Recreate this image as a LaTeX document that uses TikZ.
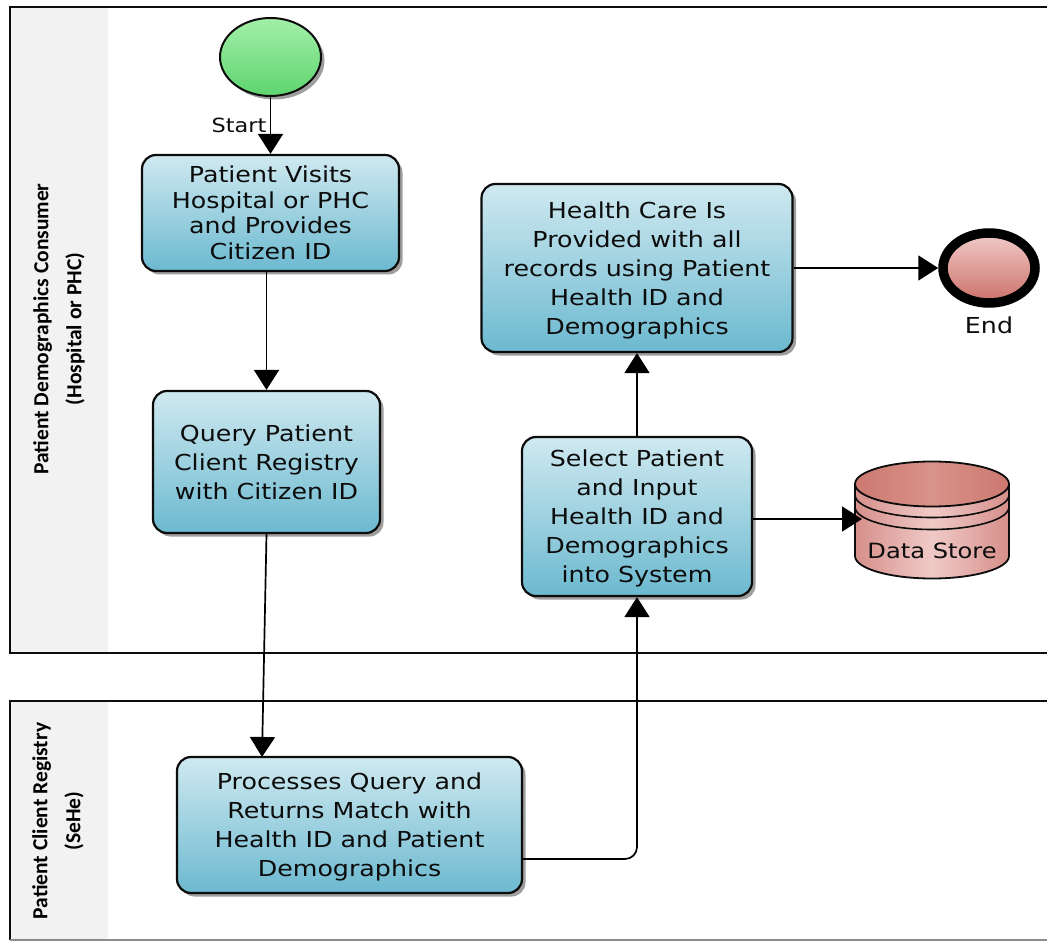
\documentclass[tikz,border=0pt]{standalone}
\usepackage{fontspec}
\setmainfont{DejaVu Sans}
\newfontfamily\boxfont[FakeStretch=1.15]{DejaVu Sans}
\newfontfamily\lanefont{Carlito}
\usetikzlibrary{arrows.meta,shadows,shapes.geometric}
\newcommand{\lowline}{\rule{0pt}{21pt}}
\definecolor{linedark}{HTML}{0C0C0C}
\definecolor{bandgray}{HTML}{F2F2F2}
\definecolor{boxtop}{HTML}{CFE9F0}
\definecolor{boxbottom}{HTML}{6CB9D0}
\definecolor{starttop}{HTML}{A3EFA8}
\definecolor{startbottom}{HTML}{5ED56F}
\definecolor{endtop}{HTML}{F0CBCA}
\definecolor{endbottom}{HTML}{CC7068}
\definecolor{storeedge}{HTML}{D68F8A}
\definecolor{storemid}{HTML}{F0CAC8}
\definecolor{storelid}{HTML}{CC786F}
\definecolor{storelidmid}{HTML}{D8938A}
\tikzset{
  flow/.style={draw=black,line width=1.7pt,-{Triangle[length=20pt,width=25pt]}},
  softshadow/.style={drop shadow={shadow xshift=3.5pt,shadow yshift=-3.5pt,fill=black!38,opacity=1}},
  procbox/.style={draw=linedark,line width=2.2pt,rounded corners=14pt,softshadow,
    top color=boxtop,bottom color=boxbottom,align=center,inner sep=0pt,text=linedark,
    font=\boxfont\fontsize{22}{29}\selectfont},
  lanetext/.style={rotate=90,align=center,text=black,
    font=\lanefont\bfseries\fontsize{21.5}{33}\selectfont},
  smalllabel/.style={text=linedark,inner sep=0pt}
}
\begin{document}
\begin{tikzpicture}[x=1pt,y=-1pt]
    \useasboundingbox (0,0) rectangle (1047,941);

    % lanes
    \fill[bandgray] (10,7) rectangle (108,653);
    \fill[bandgray] (10,701) rectangle (108,940);
    \draw[linedark,line width=2pt] (1047,7) -- (10,7) -- (10,653) -- (1047,653);
    \draw[linedark,line width=2pt] (1047,701) -- (10,701) -- (10,940);
    \draw[black!45,line width=1.2pt] (10,940) -- (1047,940);
    \node[lanetext] at (59,329) (consumer) {Patient Demographics Consumer\\(Hospital or PHC)};
    \node[lanetext] at (58,821) (registry) {Patient Client Registry\\(SeHe)};

    % events
    \node[draw=linedark,line width=2pt,ellipse,minimum width=101pt,minimum height=78pt,inner sep=0pt,
      softshadow,top color=starttop,bottom color=startbottom] at (270.5,57) (start) {};
    \node[draw=black,line width=9.5pt,ellipse,minimum width=92pt,minimum height=70pt,inner sep=0pt,
      softshadow,top color=endtop,bottom color=endbottom] at (989,268) (finish) {};
    \node[smalllabel,font=\boxfont\fontsize{19.5}{22}\selectfont] at (239,125) (startlabel) {Start};
    \node[smalllabel,font=\boxfont\fontsize{22}{24}\selectfont] at (989,325) (endlabel) {End};

    % tasks
    \node[procbox,minimum width=257pt,minimum height=116pt,font=\boxfont\fontsize{22}{25.5}\selectfont] at (270.5,213) (visit)
      {Patient Visits\\Hospital or PHC\\and Provides\\Citizen ID};
    \node[procbox,minimum width=227pt,minimum height=142pt] at (266.5,462) (query)
      {Query Patient\\Client Registry\\with Citizen ID};
    \node[procbox,minimum width=345pt,minimum height=136pt] at (349.5,825) (match)
      {\lowline Processes Query and\\Returns Match with\\Health ID and Patient\\Demographics};
    \node[procbox,minimum width=230pt,minimum height=159pt] at (637,516.5) (input)
      {\lowline Select Patient\\and Input\\Health ID and\\Demographics\\into System};
    \node[procbox,minimum width=311pt,minimum height=168pt] at (637,268) (care)
      {\lowline Health Care Is\\Provided with all\\records using Patient\\Health ID and\\Demographics};

    % data store
    \shade[left color=storeedge,right color=storeedge,middle color=storemid]
      (855,484) -- (855,556) arc[x radius=77,y radius=22.5,start angle=180,end angle=0]
      -- (1009,484) arc[x radius=77,y radius=22.5,start angle=0,end angle=-180] -- cycle;
    \draw[linedark,line width=1.8pt]
      (855,484) -- (855,556) arc[x radius=77,y radius=22.5,start angle=180,end angle=0] -- (1009,484);
    \draw[linedark,line width=1.6pt] (855,495) arc[x radius=77,y radius=22.5,start angle=180,end angle=0];
    \draw[linedark,line width=1.6pt] (855,507) arc[x radius=77,y radius=22.5,start angle=180,end angle=0];
    \draw[linedark,line width=1.8pt,left color=storelid,right color=storelid,middle color=storelidmid]
      (932,484) ellipse[x radius=77,y radius=22.5];
    \node[smalllabel,font=\boxfont\fontsize{21}{24}\selectfont] at (932,551) (store) {Data Store};

    % connectors
    \coordinate (matchin) at (262,757);
    \coordinate (matchout) at (522,859);
    \coordinate (storein) at (862,519);
    \draw[flow] (start) -- (visit.north -| start);
    \draw[flow] (query.north |- visit.south) -- (query.north);
    \draw[flow] (query.south) -- (matchin);
    \draw[flow,rounded corners=12pt] (matchout) -| (input.south);
    \draw[flow] (input.north) -- (care.south);
    \draw[flow] (input.east |- storein) -- (storein);
    \draw[flow] (care.east) -- (finish.west);
\end{tikzpicture}
\end{document}
